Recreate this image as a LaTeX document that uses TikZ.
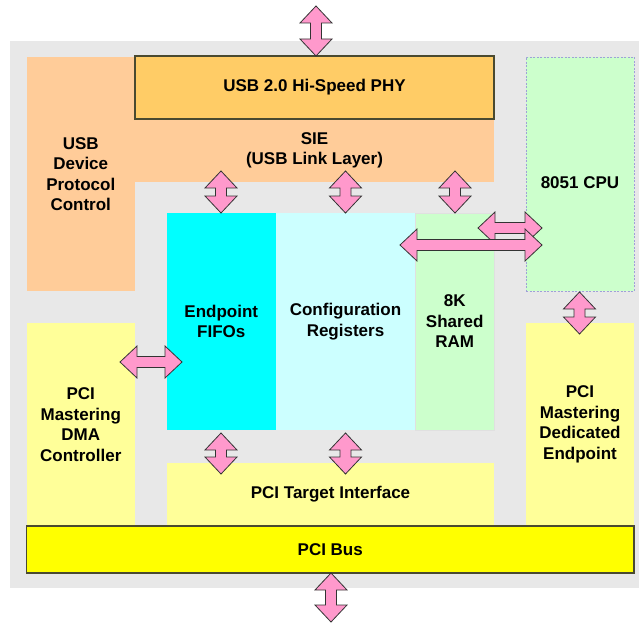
\documentclass[tikz,border=0pt]{standalone}
\usepackage{fontspec}
\setmainfont{Liberation Sans}
\usetikzlibrary{calc}
\definecolor{bggray}{HTML}{E8E8E8}
\definecolor{orng}{HTML}{FFCC99}
\definecolor{phyc}{HTML}{FFCC66}
\definecolor{lyel}{HTML}{FFFF99}
\definecolor{byel}{HTML}{FFFF00}
\definecolor{cyn}{HTML}{00FFFF}
\definecolor{lcyn}{HTML}{CCFFFF}
\definecolor{lgrn}{HTML}{CCFFCC}
\definecolor{pnk}{HTML}{FF99CC}
\definecolor{lav}{HTML}{A0A0D8}
\definecolor{edge}{HTML}{4A4A30}
\newcommand{\dblarr}[2]{%
  \filldraw[arr] (#1)
   -- ($(#1)!17pt!(#2)!16pt!90:(#2)$)
   -- ($(#1)!17pt!(#2)!5.5pt!90:(#2)$)
   -- ($(#2)!17pt!(#1)!5.5pt!-90:(#1)$)
   -- ($(#2)!17pt!(#1)!16pt!-90:(#1)$)
   -- (#2)
   -- ($(#2)!17pt!(#1)!16pt!90:(#1)$)
   -- ($(#2)!17pt!(#1)!5.5pt!90:(#1)$)
   -- ($(#1)!17pt!(#2)!5.5pt!-90:(#2)$)
   -- ($(#1)!17pt!(#2)!16pt!-90:(#2)$)
   -- cycle;}
\begin{document}
\begin{tikzpicture}[x=1pt,y=-1pt,
  blk/.style={rectangle, inner sep=0pt, outer sep=0pt, anchor=north west,
    align=center, font=\fontsize{17}{20.5}\selectfont\bfseries},
  arr/.style={fill=pnk, draw=black!80, line width=0.8pt, line join=miter}]
\useasboundingbox (0,0) rectangle (639,623);
\node[blk, fill=bggray, minimum width=629pt, minimum height=547pt] (bg) at (10,41) {};
\node[blk, fill=orng, minimum width=108.5pt, minimum height=234pt] (udpc) at (26.5,57) {USB\\Device\\Protocol\\Control};
\node[blk, fill=orng, minimum width=359pt, minimum height=63pt] (sie) at (135,119) {SIE\\(USB Link Layer)};
\node[blk, fill=phyc, draw=edge, line width=1.2pt, minimum width=359pt, minimum height=63pt] (phy) at (135,56) {USB 2.0 Hi-Speed PHY};
\node[blk, fill=lgrn, draw=lav, dash pattern=on 2pt off 1.5pt, line width=0.8pt, minimum width=108pt, minimum height=234pt,
  label={[yshift=-9pt, font=\fontsize{17}{20.5}\selectfont\bfseries]center:8051 CPU}] (cpu) at (526,57) {};
\node[blk, fill=cyn, minimum width=108.5pt, minimum height=217pt] (fifo) at (167,213) {Endpoint\\FIFOs};
\node[blk, fill=lcyn, minimum width=140pt, minimum height=217pt] (cfg) at (275.5,213) {Configuration\\Registers};
\node[blk, fill=lgrn, draw=black!12, line width=0.5pt, minimum width=78.5pt, minimum height=217pt] (ram) at (415.5,213) {8K\\Shared\\RAM};
\node[blk, fill=lyel, minimum width=108.5pt, minimum height=203pt] (dma) at (26.5,323) {PCI\\Mastering\\DMA\\Controller};
\node[blk, fill=lyel, minimum width=108pt, minimum height=203pt] (ded) at (526,323) {PCI\\Mastering\\Dedicated\\Endpoint};
\node[blk, fill=lyel, minimum width=327pt, minimum height=63pt] (tgt) at (167,463) {PCI Target Interface};
\node[blk, fill=byel, draw=edge, line width=1.2pt, minimum width=607.5pt, minimum height=47pt] (bus) at (26.5,526) {PCI Bus};
% connector end points
\coordinate (usbext) at (316,6);   \coordinate (phyt) at (316,56);
\coordinate (sieA) at (221,171);   \coordinate (fifoT) at (221,213);
\coordinate (sieB) at (345.5,171); \coordinate (cfgT) at (345.5,213);
\coordinate (sieC) at (455,171);   \coordinate (ramT) at (455,213);
\coordinate (ramR1) at (478,228);  \coordinate (cpuL1) at (542,228);
\coordinate (cfgR) at (400,245);   \coordinate (cpuL2) at (542,245);
\coordinate (cpuB) at (579.5,292); \coordinate (dedT) at (579.5,334);
\coordinate (dmaR) at (120,362);   \coordinate (fifoL) at (182,362);
\coordinate (fifoB) at (221,433);  \coordinate (tgtA) at (221,474);
\coordinate (cfgB) at (345.5,433); \coordinate (tgtB) at (345.5,474);
\coordinate (busB) at (331,573);   \coordinate (pciext) at (331,622);
\dblarr{usbext}{phyt}
\dblarr{sieA}{fifoT}
\dblarr{sieB}{cfgT}
\dblarr{sieC}{ramT}
\dblarr{ramR1}{cpuL1}
\dblarr{cfgR}{cpuL2}
\dblarr{cpuB}{dedT}
\dblarr{dmaR}{fifoL}
\dblarr{fifoB}{tgtA}
\dblarr{cfgB}{tgtB}
\dblarr{busB}{pciext}
\end{tikzpicture}
\end{document}
